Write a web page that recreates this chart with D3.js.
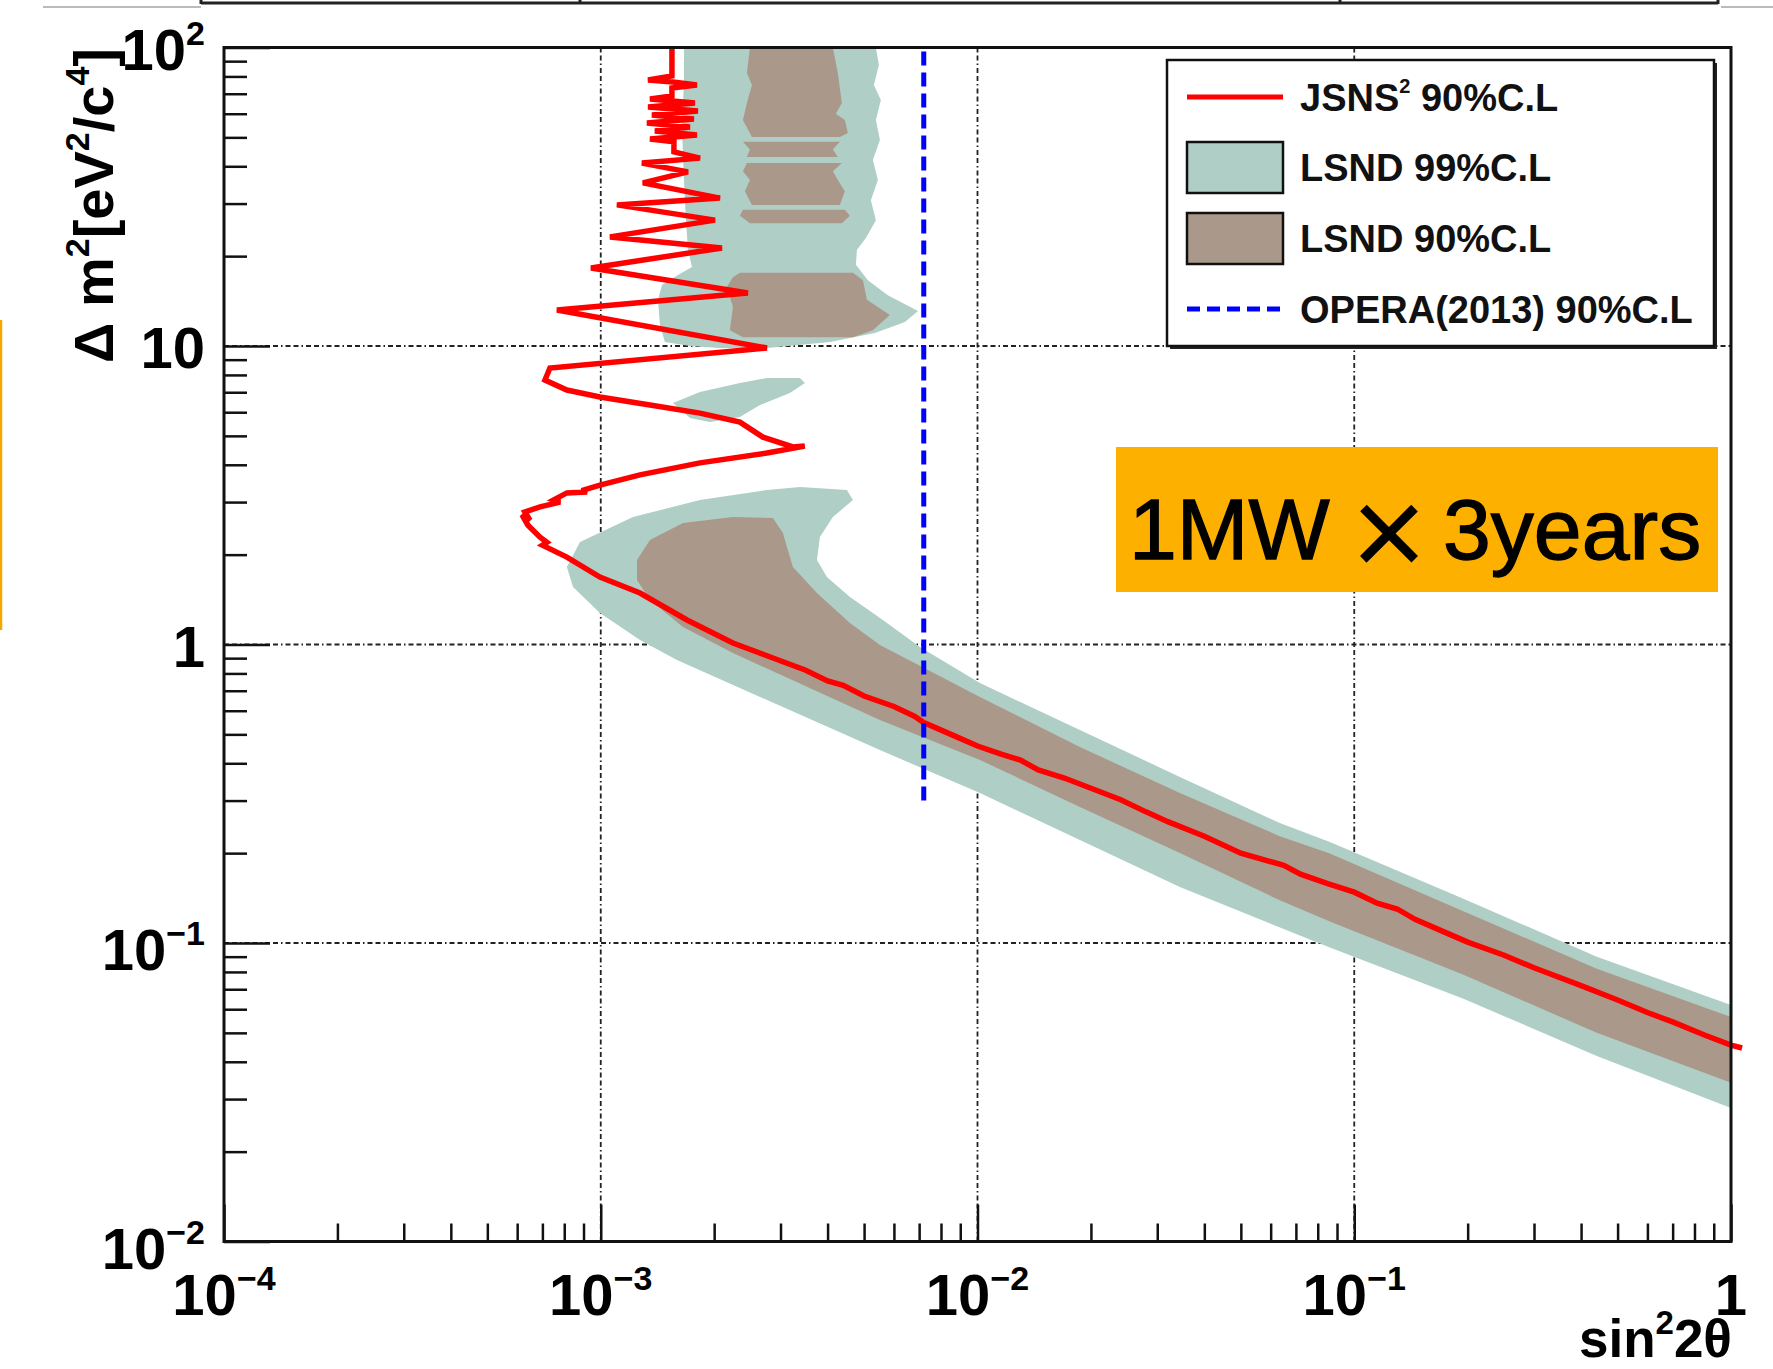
<!DOCTYPE html>
<html>
<head>
<meta charset="utf-8">
<script src="https://cdn.jsdelivr.net/npm/d3@7"></script>
<style>
  body { margin: 0; background: #fff; }
  svg { display: block; font-family: "Liberation Sans", Arial, Helvetica, sans-serif; }
</style>
</head>
<body>
<script>
// values: [sin^2 2theta, delta m^2]

// JSNS2 90% C.L. sensitivity
var redCurve = [
  [1.545e-3, 100], [1.545e-3, 80.3], [1.335e-3, 77.8], [1.555e-3, 76.6], [1.800e-3, 74.9],
  [1.545e-3, 73.2], [1.545e-3, 68.8], [1.351e-3, 67.2], [1.778e-3, 65.2], [1.335e-3, 63.2],
  [1.811e-3, 61.3], [1.367e-3, 59.4], [1.767e-3, 57.6], [1.326e-3, 55.9], [1.725e-3, 54.2],
  [1.392e-3, 52.5], [1.800e-3, 50.9], [1.351e-3, 49.4], [1.564e-3, 48.3], [1.564e-3, 44.7],
  [1.834e-3, 42.6], [1.286e-3, 41.0], [1.704e-3, 38.3], [1.294e-3, 35.2], [2.072e-3, 31.3],
  [1.104e-3, 29.7], [2.010e-3, 26.4], [1.058e-3, 23.2], [2.097e-3, 21.3], [9.42e-4, 18.25],
  [2.458e-3, 15.05], [7.65e-4, 13.2], [2.761e-3, 9.85], [7.33e-4, 8.44], [7.11e-4, 7.69],
  [8.13e-4, 7.12], [9.95e-4, 6.75], [1.351e-3, 6.34], [1.834e-3, 5.96], [2.341e-3, 5.56],
  [2.695e-3, 4.95], [3.237e-3, 4.59], [3.48e-3, 4.62], [2.761e-3, 4.38], [1.834e-3, 4.06],
  [1.271e-3, 3.70], [9.95e-4, 3.42], [8.9e-4, 3.28], [9.2e-4, 3.24], [8.13e-4, 3.22],
  [7.5e-4, 3.05], [7.8e-4, 3.0], [6.90e-4, 2.89], [6.29e-4, 2.78], [6.49e-4, 2.61],
  [6.18e-4, 2.72], [6.41e-4, 2.51], [6.90e-4, 2.29], [7.2e-4, 2.2], [7.0e-4, 2.15],
  [8.13e-4, 1.963], [9.95e-4, 1.682], [1.271e-3, 1.487], [1.694e-3, 1.208], [2.243e-3, 1.012],
  [2.864e-3, 0.901], [3.5e-3, 0.82], [4.0e-3, 0.755], [4.4e-3, 0.73], [5.0e-3, 0.672],
  [6.0e-3, 0.62], [6.8e-3, 0.575], [7.2e-3, 0.548], [8.5e-3, 0.50], [1.0e-2, 0.457],
  [1.15e-2, 0.43], [1.3e-2, 0.41], [1.45e-2, 0.38], [1.7e-2, 0.357], [2.0e-2, 0.330],
  [2.4e-2, 0.302], [2.8e-2, 0.275], [3.2e-2, 0.255], [4.0e-2, 0.228], [5.0e-2, 0.200],
  [6.5e-2, 0.182], [7.2e-2, 0.170], [8.5e-2, 0.158], [0.1, 0.148], [0.115, 0.136],
  [0.13, 0.13], [0.145, 0.12], [0.17, 0.11], [0.2, 0.1007], [0.25, 0.091],
  [0.3, 0.0826], [0.4, 0.072], [0.5, 0.0644], [0.6, 0.0585], [0.7, 0.0544],
  [0.85, 0.0492], [1.0, 0.0455], [1.07, 0.0445]
];

// LSND 99% C.L. allowed regions
var lsnd99Upper = [
  [1.663e-3, 100], [5.374e-3, 100], [5.473e-3, 87.4], [5.309e-3, 74.9], [5.540e-3, 66.7],
  [5.374e-3, 57.2], [5.508e-3, 49.0], [5.276e-3, 42.0], [5.440e-3, 36.0], [5.212e-3, 30.8],
  [5.374e-3, 26.4], [5.055e-3, 23.0], [4.786e-3, 21.0], [4.757e-3, 18.7], [5.117e-3, 16.6],
  [5.781e-3, 14.8], [6.948e-3, 13.1], [6.418e-3, 12.03], [5.341e-3, 11.06], [4.058e-3, 10.31],
  [2.761e-3, 9.85], [2.072e-3, 9.85], [1.725e-3, 10.0], [1.480e-3, 10.31], [1.436e-3, 11.76],
  [1.419e-3, 14.3], [1.454e-3, 16.0], [1.603e-3, 17.3], [1.746e-3, 18.4], [1.704e-3, 21.0],
  [1.683e-3, 26.4], [1.663e-3, 36.0], [1.643e-3, 52.9], [1.663e-3, 77.8]
];
var lsnd99Island = [
  [1.555e-3, 6.44], [1.834e-3, 7.01], [2.341e-3, 7.52], [2.761e-3, 7.81], [3.379e-3, 7.81],
  [3.483e-3, 7.52], [3.178e-3, 6.96], [2.645e-3, 6.34], [2.341e-3, 5.78], [1.949e-3, 5.56],
  [1.725e-3, 5.74]
];
var lsnd99Lower = [
  [8.81e-4, 2.204], [1.218e-3, 2.673], [1.834e-3, 3.049], [2.761e-3, 3.293], [3.379e-3, 3.370],
  [4.501e-3, 3.293], [4.670e-3, 3.049], [4.131e-3, 2.673], [3.817e-3, 2.29], [3.748e-3, 1.919],
  [3.984e-3, 1.682], [4.585e-3, 1.443], [5.608e-3, 1.208], [7.032e-3, 0.981], [1.015e-2, 0.743],
  [1.870e-2, 0.517], [3.445e-2, 0.360], [6.344e-2, 0.2523], [8.614e-2, 0.218], [0.1942, 0.141],
  [0.4403, 0.090], [1, 0.0620], [1, 0.0280], [0.4403, 0.0418], [0.1942, 0.0652],
  [8.614e-2, 0.0965], [3.445e-2, 0.154], [1.870e-2, 0.2214], [1.015e-2, 0.318], [5.508e-3, 0.443],
  [1.593e-3, 0.887], [1.271e-3, 1.035], [9.95e-4, 1.275], [8.44e-4, 1.558], [8.13e-4, 1.818]
];

// LSND 90% C.L. allowed regions
var lsnd90Upper = [
  [[2.489e-3, 100], [4.131e-3, 100], [4.259e-3, 82.2], [4.365e-3, 65.2], [4.208e-3, 60],
   [4.446e-3, 57.2], [4.529e-3, 51.7], [4.312e-3, 50.1], [2.519e-3, 50.1], [2.384e-3, 57.2],
   [2.443e-3, 65.2], [2.519e-3, 74.9], [2.443e-3, 82.2]],
  [[2.384e-3, 48.3], [4.312e-3, 48.3], [4.131e-3, 45.5], [4.259e-3, 43.0], [2.443e-3, 43.0],
   [2.489e-3, 45.5]],
  [[2.443e-3, 41.0], [4.365e-3, 41.0], [4.131e-3, 38.5], [4.259e-3, 36.0], [4.446e-3, 33],
   [4.312e-3, 29.7], [2.519e-3, 29.7], [2.413e-3, 33], [2.489e-3, 36.0], [2.384e-3, 38.5]],
  [[2.384e-3, 28.6], [4.446e-3, 28.6], [4.585e-3, 27.3], [4.365e-3, 25.8], [2.489e-3, 25.8],
   [2.341e-3, 27.3]],
  [[2.341e-3, 17.6], [4.670e-3, 17.6], [4.964e-3, 16.6], [5.087e-3, 14.3], [5.852e-3, 12.7],
   [5.276e-3, 11.3], [4.670e-3, 10.7], [2.384e-3, 10.7], [2.202e-3, 11.3], [2.243e-3, 13.5],
   [2.162e-3, 15.8], [2.243e-3, 17.0]]
];
var lsnd90Lower = [
  [1.248e-3, 1.919], [1.351e-3, 2.239], [1.653e-3, 2.553], [2.243e-3, 2.673], [2.864e-3, 2.654],
  [3.045e-3, 2.363], [3.120e-3, 2.122], [3.237e-3, 1.818], [3.748e-3, 1.487], [4.585e-3, 1.180],
  [5.508e-3, 0.996], [1.015e-2, 0.667], [1.870e-2, 0.4535], [3.445e-2, 0.318], [6.344e-2, 0.228],
  [8.614e-2, 0.1995], [0.1942, 0.128], [0.4403, 0.082], [1, 0.0565], [1, 0.0340],
  [0.4403, 0.050], [0.1942, 0.0785], [8.614e-2, 0.118], [6.344e-2, 0.139], [3.445e-2, 0.2002],
  [1.870e-2, 0.2855], [1.015e-2, 0.4104], [5.508e-3, 0.5587], [2.243e-3, 0.9365], [1.653e-3, 1.144],
  [1.351e-3, 1.41], [1.248e-3, 1.645]
];

// OPERA (2013) 90% C.L. limit
var operaX = 0.0072;
var operaRange = [0.3, 100];

// axes
var xTicks = [1e-4, 1e-3, 1e-2, 1e-1, 1];
var xTickLabels = [["10", "\u22124"], ["10", "\u22123"], ["10", "\u22122"], ["10", "\u22121"], ["1", ""]];
var yTicks = [1e-2, 1e-1, 1, 10, 100];
var yTickLabels = [["10", "\u22122"], ["10", "\u22121"], ["1", ""], ["10", ""], ["10", "2"]];
var legendLabels = ["JSNS", "LSND 99%C.L", "LSND 90%C.L", "OPERA(2013) 90%C.L"];

var W = 1773, H = 1369;
var teal = "#afcec6", brown = "#aa998a";

var svg = d3.select("body").append("svg").attr("width", W).attr("height", H);
svg.append("rect").attr("width", W).attr("height", H).attr("fill", "#fff");

var x = d3.scaleLog().domain([1e-4, 1]).range([224, 1731]);
var y = d3.scaleLog().domain([1e-2, 100]).range([1241.5, 47.5]);

// bits of the slide around the plot
var deco = svg.append("g");
deco.append("line").attr("x1", 43).attr("x2", 201).attr("y1", 7).attr("y2", 7).attr("stroke", "#bbb").attr("stroke-width", 2);
deco.append("line").attr("x1", 1721).attr("x2", 1773).attr("y1", 7).attr("y2", 7).attr("stroke", "#bbb").attr("stroke-width", 2);
deco.append("line").attr("x1", 201).attr("x2", 1718).attr("y1", 3).attr("y2", 3).attr("stroke", "#222").attr("stroke-width", 3);
[201, 580, 1340, 1718].forEach(function(px) {
  deco.append("line").attr("x1", px).attr("x2", px).attr("y1", 0).attr("y2", 4).attr("stroke", "#222").attr("stroke-width", 3);
});
deco.append("line").attr("x1", 1).attr("x2", 1).attr("y1", 320).attr("y2", 630).attr("stroke", "#f5a800").attr("stroke-width", 2.5);

// grid
var grid = svg.append("g").attr("stroke", "#222").attr("stroke-width", 1.8).attr("stroke-dasharray", "5,3,5,3,1.5,3");
xTicks.slice(1, -1).forEach(function(v) {
  grid.append("line").attr("x1", x(v)).attr("x2", x(v)).attr("y1", y.range()[1]).attr("y2", y.range()[0]);
});
yTicks.slice(1, -1).forEach(function(v) {
  grid.append("line").attr("y1", y(v)).attr("y2", y(v)).attr("x1", x.range()[0]).attr("x2", x.range()[1]);
});

svg.append("clipPath").attr("id", "plotclip").append("rect")
  .attr("x", 224).attr("y", 47.5).attr("width", 1731 - 224).attr("height", 1241.5 - 47.5);

var line = d3.line().x(function(d) { return x(d[0]); }).y(function(d) { return y(d[1]); });
function poly(pts) { return line(pts) + "Z"; }

var fills = svg.append("g").attr("clip-path", "url(#plotclip)");
[lsnd99Upper, lsnd99Island, lsnd99Lower].forEach(function(p) {
  fills.append("path").attr("d", poly(p)).attr("fill", teal);
});
lsnd90Upper.concat([lsnd90Lower]).forEach(function(p) {
  fills.append("path").attr("d", poly(p)).attr("fill", brown);
});

// JSNS2 curve
svg.append("path").attr("d", line(redCurve)).attr("fill", "none")
  .attr("stroke", "#ff0000").attr("stroke-width", 5.5).attr("stroke-linejoin", "miter").attr("stroke-miterlimit", 3);

// OPERA line
svg.append("line").attr("x1", x(operaX)).attr("x2", x(operaX))
  .attr("y1", y(operaRange[0])).attr("y2", y(operaRange[1]))
  .attr("stroke", "#0000ff").attr("stroke-width", 5).attr("stroke-dasharray", "14,7");

// axes: ticks pointing inwards
var allX = x.ticks(), allY = y.ticks();
function isMajor(v) { return Math.abs(Math.log10(v) - Math.round(Math.log10(v))) < 1e-6; }

function styleAxis(g) {
  g.select(".domain").remove();
  g.selectAll("line").attr("stroke", "#111").attr("stroke-width", 2.5);
  g.selectAll("text").remove();
}
svg.append("g").attr("transform", "translate(0,1241.5)")
  .call(d3.axisBottom(x).tickValues(allX.filter(function(v) { return !isMajor(v); })).tickSize(-18).tickSizeOuter(0)).call(styleAxis);
svg.append("g").attr("transform", "translate(0,1241.5)")
  .call(d3.axisBottom(x).tickValues(xTicks).tickSize(-37).tickSizeOuter(0)).call(styleAxis);
svg.append("g").attr("transform", "translate(224,0)")
  .call(d3.axisLeft(y).tickValues(allY.filter(function(v) { return !isMajor(v); })).tickSize(-23).tickSizeOuter(0)).call(styleAxis);
svg.append("g").attr("transform", "translate(224,0)")
  .call(d3.axisLeft(y).tickValues(yTicks).tickSize(-46).tickSizeOuter(0)).call(styleAxis);

// frame
svg.append("rect").attr("x", 224).attr("y", 47.5).attr("width", 1731 - 224).attr("height", 1241.5 - 47.5)
  .attr("fill", "none").attr("stroke", "#111").attr("stroke-width", 3);

// tick labels
function label(t, parts, expSize, rise) {
  t.append("tspan").text(parts[0]);
  if (parts[1]) t.append("tspan").attr("font-size", expSize).attr("dy", -rise).text(parts[1]);
}
xTicks.forEach(function(v, i) {
  var t = svg.append("text").attr("x", x(v)).attr("y", 1315).attr("text-anchor", "middle")
    .attr("font-size", 58).attr("font-weight", "bold").attr("fill", "#000");
  label(t, xTickLabels[i], 34, 25);
});
yTicks.forEach(function(v, i) {
  var off = yTickLabels[i][1].charAt(0) === "\u2212" ? 27 : 22;
  var t = svg.append("text").attr("x", 205).attr("y", y(v) + off).attr("text-anchor", "end")
    .attr("font-size", 58).attr("font-weight", "bold").attr("fill", "#000");
  label(t, yTickLabels[i], 34, 25);
});

// axis titles
var xt = svg.append("text").attr("x", 1732).attr("y", 1357).attr("text-anchor", "end")
  .attr("font-size", 53).attr("font-weight", "bold");
xt.append("tspan").text("sin");
xt.append("tspan").attr("font-size", 33).attr("dy", -23).text("2");
xt.append("tspan").attr("dy", 23).text("2\u03b8");

var yt = svg.append("text").attr("transform", "translate(113,48) rotate(-90)").attr("text-anchor", "end")
  .attr("font-size", 56).attr("font-weight", "bold");
yt.append("tspan").text("\u0394 m");
yt.append("tspan").attr("font-size", 34).attr("dy", -24).text("2");
yt.append("tspan").attr("dy", 24).text("[eV");
yt.append("tspan").attr("font-size", 34).attr("dy", -24).text("2");
yt.append("tspan").attr("dy", 24).text("/c");
yt.append("tspan").attr("font-size", 34).attr("dy", -24).text("4");
yt.append("tspan").attr("dy", 24).text("]");

// legend
var lg = svg.append("g");
lg.append("rect").attr("x", 1170).attr("y", 63).attr("width", 547).attr("height", 286).attr("fill", "#222");
lg.append("rect").attr("x", 1167).attr("y", 60).attr("width", 547).attr("height", 286)
  .attr("fill", "#fff").attr("stroke", "#111").attr("stroke-width", 2.5);
var rowY = [97, 167, 238, 309];
lg.append("line").attr("x1", 1187).attr("x2", 1283).attr("y1", rowY[0]).attr("y2", rowY[0])
  .attr("stroke", "#ff0000").attr("stroke-width", 5);
lg.append("rect").attr("x", 1187).attr("y", rowY[1] - 25).attr("width", 96).attr("height", 51)
  .attr("fill", teal).attr("stroke", "#111").attr("stroke-width", 2.5);
lg.append("rect").attr("x", 1187).attr("y", rowY[2] - 25).attr("width", 96).attr("height", 51)
  .attr("fill", brown).attr("stroke", "#111").attr("stroke-width", 2.5);
lg.append("line").attr("x1", 1187).attr("x2", 1283).attr("y1", rowY[3]).attr("y2", rowY[3])
  .attr("stroke", "#0000ff").attr("stroke-width", 5).attr("stroke-dasharray", "13,7");
legendLabels.forEach(function(s, i) {
  var t = lg.append("text").attr("x", 1300).attr("y", rowY[i] + 14)
    .attr("font-size", 38).attr("font-weight", "bold").attr("fill", "#111");
  if (i === 0) {
    t.append("tspan").text(s);
    t.append("tspan").attr("font-size", 20).attr("dy", -18).text("2");
    t.append("tspan").attr("dy", 18).text(" 90%C.L");
  } else {
    t.text(s);
  }
});

// exposure tag
var tag = svg.append("g").attr("fill", "#000").attr("stroke", "#000");
tag.append("rect").attr("x", 1116).attr("y", 447).attr("width", 602).attr("height", 145)
  .attr("fill", "#fdb000").attr("stroke", "none");
tag.append("text").attr("x", 1129).attr("y", 559).attr("font-size", 86).attr("stroke-width", 1.3).text("1MW");
tag.append("text").attr("x", 1389).attr("y", 577).attr("text-anchor", "middle").attr("font-size", 130)
  .attr("stroke-width", 0).text("\u00d7");
tag.append("text").attr("x", 1443).attr("y", 559).attr("font-size", 86).attr("stroke-width", 1.3).text("3years");
</script>
</body>
</html>
